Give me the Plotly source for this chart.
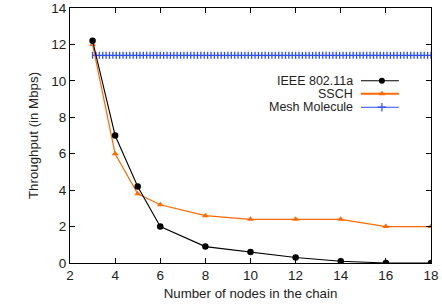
import plotly.graph_objects as go

nodes = [3, 4, 5, 6, 8, 10, 12, 14, 16, 18]
ieee = [12.2, 7.0, 4.2, 2.0, 0.9, 0.6, 0.3, 0.1, 0.0, 0.0]
ssch = [12.0, 6.0, 3.8, 3.2, 2.6, 2.4, 2.4, 2.4, 2.0, 2.0]
mesh_value = 11.4
mesh_x = [round(3 + 0.15 * i, 2) for i in range(101)]
mesh_y = [mesh_value] * len(mesh_x)

x_ticks = [2, 4, 6, 8, 10, 12, 14, 16, 18]
y_ticks = [0, 2, 4, 6, 8, 10, 12, 14]

BLACK = "#000000"
ORANGE = "#ff6a00"
BLUE = "#2b4cff"
FONT = "Liberation Sans, Arial, sans-serif"

fig = go.Figure()
fig.add_trace(go.Scatter(x=mesh_x, y=mesh_y, mode="lines+markers", name="Mesh Molecule",
                         line=dict(color=BLUE, width=1.2),
                         marker=dict(symbol="line-ns", size=5, line=dict(color=BLUE, width=1.3))))
fig.add_trace(go.Scatter(x=nodes, y=ssch, mode="lines+markers", name="SSCH",
                         line=dict(color=ORANGE, width=1.2),
                         marker=dict(symbol="triangle-up", size=6, color=ORANGE)))
fig.add_trace(go.Scatter(x=nodes, y=ieee, mode="lines+markers", name="IEEE 802.11a",
                         line=dict(color=BLACK, width=1.1),
                         marker=dict(symbol="circle", size=6.5, color=BLACK)))

# custom gnuplot-style legend (text left, sample right)
legend_rows = [("IEEE 802.11a", BLACK, "circle", 0.715),
               ("SSCH", ORANGE, "triangle-up", 0.664),
               ("Mesh Molecule", BLUE, "cross-thin", 0.611)]
for name, col, sym, yy in legend_rows:
    fig.add_trace(go.Scatter(x=[0.806, 0.911], y=[yy, yy], xaxis="x2", yaxis="y2",
                             mode="lines", line=dict(color=col, width=1.1 if col != ORANGE else 2.0),
                             showlegend=False, hoverinfo="skip"))
    mk = dict(symbol=sym, size=6, color=col)
    if sym == "cross-thin":
        mk["line"] = dict(color=col, width=1.2)
    fig.add_trace(go.Scatter(x=[0.864], y=[yy], xaxis="x2", yaxis="y2", mode="markers",
                             marker=mk, showlegend=False, hoverinfo="skip"))
    fig.add_annotation(x=0.787, y=yy, xref="x2", yref="y2", text=name, showarrow=False,
                       xanchor="right", yanchor="middle", borderpad=0,
                       font=dict(size=12.5, color="#222222", family=FONT))

axis_common = dict(showline=True, linecolor="black", linewidth=1.2, mirror="ticks",
                   ticks="inside", ticklen=5, tickcolor="black", showgrid=False, zeroline=False,
                   automargin=False,
                   tickfont=dict(size=13.5, family=FONT, color="#222222"))

fig.update_layout(
    width=442, height=308,
    margin=dict(l=70, r=11, t=8, b=45),
    paper_bgcolor="white", plot_bgcolor="white",
    showlegend=False,
    font=dict(family=FONT, color="#222222"),
    xaxis=dict(range=[2, 18], tickvals=x_ticks, title=dict(text="Number of nodes in the chain",
               font=dict(size=13.3, family=FONT), standoff=6), **axis_common),
    yaxis=dict(range=[0, 14], tickvals=y_ticks, title=dict(text="Throughput (in Mbps)",
               font=dict(size=13.3, family=FONT), standoff=9), **axis_common),
    xaxis2=dict(overlaying="x", range=[0, 1], visible=False, fixedrange=True),
    yaxis2=dict(overlaying="y", range=[0, 1], visible=False, fixedrange=True),
)

fig.write_html("out.html", config={"displayModeBar": False},
               post_script="document.body.style.margin='0';document.body.style.overflow='hidden';")
